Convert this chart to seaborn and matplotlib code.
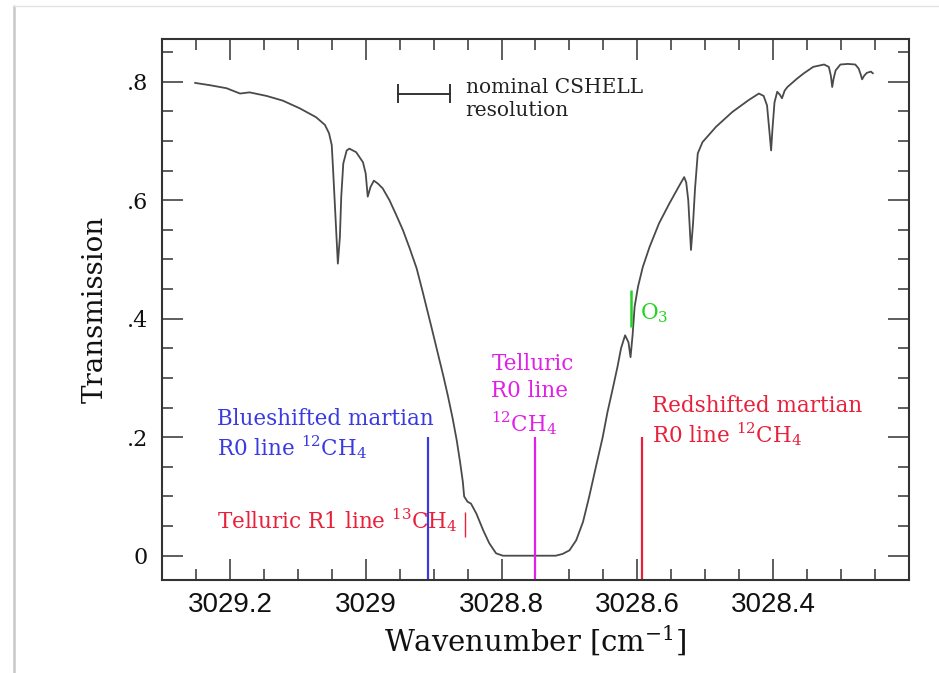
import matplotlib
matplotlib.use("Agg")
import matplotlib.pyplot as plt
from matplotlib.lines import Line2D
from matplotlib.ticker import MultipleLocator, FixedLocator, FixedFormatter
import pandas as pd
import seaborn as sns

# Atmospheric transmission spectrum near the 12CH4 R0 line
wavenumber = [
    3029.2515, 3029.229, 3029.205, 3029.185, 3029.171, 3029.146, 3029.122,
    3029.097, 3029.073, 3029.060, 3029.054, 3029.050, 3029.048, 3029.046,
    3029.043, 3029.041, 3029.038, 3029.036, 3029.033, 3029.028, 3029.024,
    3029.014, 3029.004, 3029.000, 3028.997, 3028.993, 3028.988, 3028.982,
    3028.975, 3028.965, 3028.955, 3028.945, 3028.935, 3028.925, 3028.916,
    3028.908, 3028.903, 3028.896, 3028.886, 3028.879, 3028.872, 3028.866,
    3028.861, 3028.857, 3028.855, 3028.850, 3028.845, 3028.837, 3028.827,
    3028.818, 3028.808, 3028.798, 3028.720, 3028.710, 3028.700, 3028.690,
    3028.680, 3028.671, 3028.661, 3028.651, 3028.644, 3028.636, 3028.629,
    3028.624, 3028.618, 3028.613, 3028.610, 3028.607, 3028.604, 3028.599,
    3028.592, 3028.582, 3028.568, 3028.553, 3028.538, 3028.531, 3028.528,
    3028.525, 3028.521, 3028.518, 3028.515, 3028.511, 3028.504, 3028.484,
    3028.460, 3028.436, 3028.421, 3028.414, 3028.409, 3028.405, 3028.403,
    3028.401, 3028.398, 3028.394, 3028.390, 3028.387, 3028.383, 3028.379,
    3028.373, 3028.365, 3028.355, 3028.341, 3028.325, 3028.318, 3028.315,
    3028.313, 3028.311, 3028.308, 3028.301, 3028.290, 3028.279, 3028.274,
    3028.271, 3028.269, 3028.266, 3028.262, 3028.256, 3028.253,
]
transmission = [
    0.798, 0.794, 0.789, 0.780, 0.782, 0.776, 0.768,
    0.755, 0.740, 0.727, 0.713, 0.693, 0.651, 0.606,
    0.538, 0.493, 0.538, 0.606, 0.662, 0.684, 0.687,
    0.681, 0.664, 0.645, 0.606, 0.622, 0.633, 0.628,
    0.620, 0.600, 0.575, 0.549, 0.518, 0.485, 0.445,
    0.408, 0.385, 0.352, 0.305, 0.270, 0.232, 0.195,
    0.158, 0.125, 0.100, 0.091, 0.088, 0.071, 0.043,
    0.021, 0.004, 0.000, 0.000, 0.003, 0.009, 0.026,
    0.057, 0.099, 0.150, 0.200, 0.242, 0.283, 0.320,
    0.350, 0.372, 0.360, 0.335, 0.372, 0.420, 0.454,
    0.487, 0.521, 0.561, 0.594, 0.625, 0.639, 0.630,
    0.600, 0.516, 0.560, 0.620, 0.679, 0.698, 0.724,
    0.749, 0.769, 0.780, 0.776, 0.760, 0.710, 0.684,
    0.720, 0.765, 0.783, 0.778, 0.772, 0.785, 0.791,
    0.797, 0.805, 0.814, 0.825, 0.829, 0.825, 0.810,
    0.791, 0.805, 0.819, 0.829, 0.830, 0.829, 0.822,
    0.812, 0.804, 0.810, 0.815, 0.817, 0.814,
]

# Marked line positions (cm^-1) and the height of their markers
blue_martian_wn = 3028.908
telluric_r0_wn = 3028.750
red_martian_wn = 3028.593
marker_top = 0.2
telluric_r1_wn = 3028.854
telluric_r1_span = [0.032, 0.074]
o3_wn = 3028.609
o3_span = [0.386, 0.448]
resolution_span = [3028.952, 3028.876]
resolution_level = 0.780

x_major = [3029.2, 3029.0, 3028.8, 3028.6, 3028.4]
x_labels = ["3029.2", "3029", "3028.8", "3028.6", "3028.4"]
y_major = [0.0, 0.2, 0.4, 0.6, 0.8]
y_labels = ["0", ".2", ".4", ".6", ".8"]

BLUE = "#3a3ae0"
MAGENTA = "#e020e6"
RED = "#e8203a"
GREEN = "#22d422"
INK = "#333333"

sns.set_style("ticks")
plt.rcParams["font.family"] = ["DejaVu Serif"]
plt.rcParams["mathtext.fontset"] = "dejavuserif"
plt.rcParams["axes.unicode_minus"] = False

fig = plt.figure(figsize=(9.39, 6.73), dpi=100)
ax = fig.add_axes([0.1725, 0.1382, 0.7955, 0.8038])

df = pd.DataFrame({"wn": wavenumber, "T": transmission})
sns.lineplot(data=df, x="wn", y="T", ax=ax, color="#4a4a4a", linewidth=1.3,
             estimator=None, sort=True)

ax.set_xlim(3029.3, 3028.2)
ax.set_ylim(-0.041, 0.872)
y0 = ax.get_ylim()[0]

# Vertical markers for the methane lines
ax.vlines([blue_martian_wn], y0, marker_top, color=BLUE, linewidth=1.6)
ax.vlines([telluric_r0_wn], y0, marker_top, color=MAGENTA, linewidth=1.6)
ax.vlines([red_martian_wn], y0, marker_top, color=RED, linewidth=1.6)
ax.vlines([telluric_r1_wn], telluric_r1_span[0], telluric_r1_span[1],
          color=RED, linewidth=1.0)
ax.vlines([o3_wn], o3_span[0], o3_span[1], color=GREEN, linewidth=1.8)

# Instrument resolution bar
ax.plot(resolution_span, [resolution_level] * 2, color=INK, linewidth=1.4)
ax.vlines(resolution_span, resolution_level - 0.016, resolution_level + 0.016,
          color=INK, linewidth=1.4)
ax.text(3028.853, 0.806, "nominal CSHELL\nresolution", fontsize=14.5,
        color="#222222", va="top", ha="left", linespacing=1.25)

label_kw = dict(fontsize=15.5, va="top", ha="left", linespacing=1.15)
ax.text(3029.219, 0.250, "Blueshifted martian\nR0 line $^{12}$CH$_4$",
        color=BLUE, **label_kw)
ax.text(3029.219, 0.060, "Telluric R1 line $^{13}$CH$_4$", fontsize=15.5,
        color=RED, va="center", ha="left")
ax.text(3028.815, 0.342, "Telluric\nR0 line\n$^{12}$CH$_4$", fontsize=15.5,
        color=MAGENTA, va="top", ha="left", linespacing=1.3)
ax.text(3028.579, 0.272, "Redshifted martian\nR0 line $^{12}$CH$_4$",
        color=RED, **label_kw)
ax.text(3028.596, 0.410, "O$_3$", fontsize=15.5, color=GREEN,
        va="center", ha="left")

# Axes styling
ax.xaxis.set_major_locator(FixedLocator(x_major))
ax.xaxis.set_major_formatter(FixedFormatter(x_labels))
ax.xaxis.set_minor_locator(MultipleLocator(0.05))
ax.yaxis.set_major_locator(FixedLocator(y_major))
ax.yaxis.set_major_formatter(FixedFormatter(y_labels))
ax.yaxis.set_minor_locator(MultipleLocator(0.05))

ax.tick_params(which="both", direction="in", top=True, right=True,
               color=INK, width=1.1)
ax.tick_params(which="major", length=15)
ax.tick_params(which="minor", length=8)
ax.tick_params(axis="x", which="major", pad=9)
ax.tick_params(axis="y", which="major", pad=10)
for lab in ax.get_xticklabels():
    lab.set_family("Liberation Sans")
    lab.set_fontsize(20)
    lab.set_color("#111111")
for lab in ax.get_yticklabels():
    lab.set_fontsize(16)
    lab.set_color("#111111")

for sp in ax.spines.values():
    sp.set_color(INK)
    sp.set_linewidth(1.5)

ax.set_xlabel("Wavenumber [cm$^{-1}$]", fontsize=21, labelpad=4,
              color="#111111")
ax.set_ylabel("Transmission", fontsize=20, labelpad=13, color="#111111")

# Thin page border along the left and top edges
fig.add_artist(Line2D([14 / 939, 14 / 939], [0, 1 - 6 / 673],
                      transform=fig.transFigure, color="#c8c8c8", linewidth=1.8))
fig.add_artist(Line2D([14 / 939, 1], [1 - 6 / 673, 1 - 6 / 673],
                      transform=fig.transFigure, color="#e4e4e4", linewidth=1.0))

fig.savefig("out.png", dpi=100)
